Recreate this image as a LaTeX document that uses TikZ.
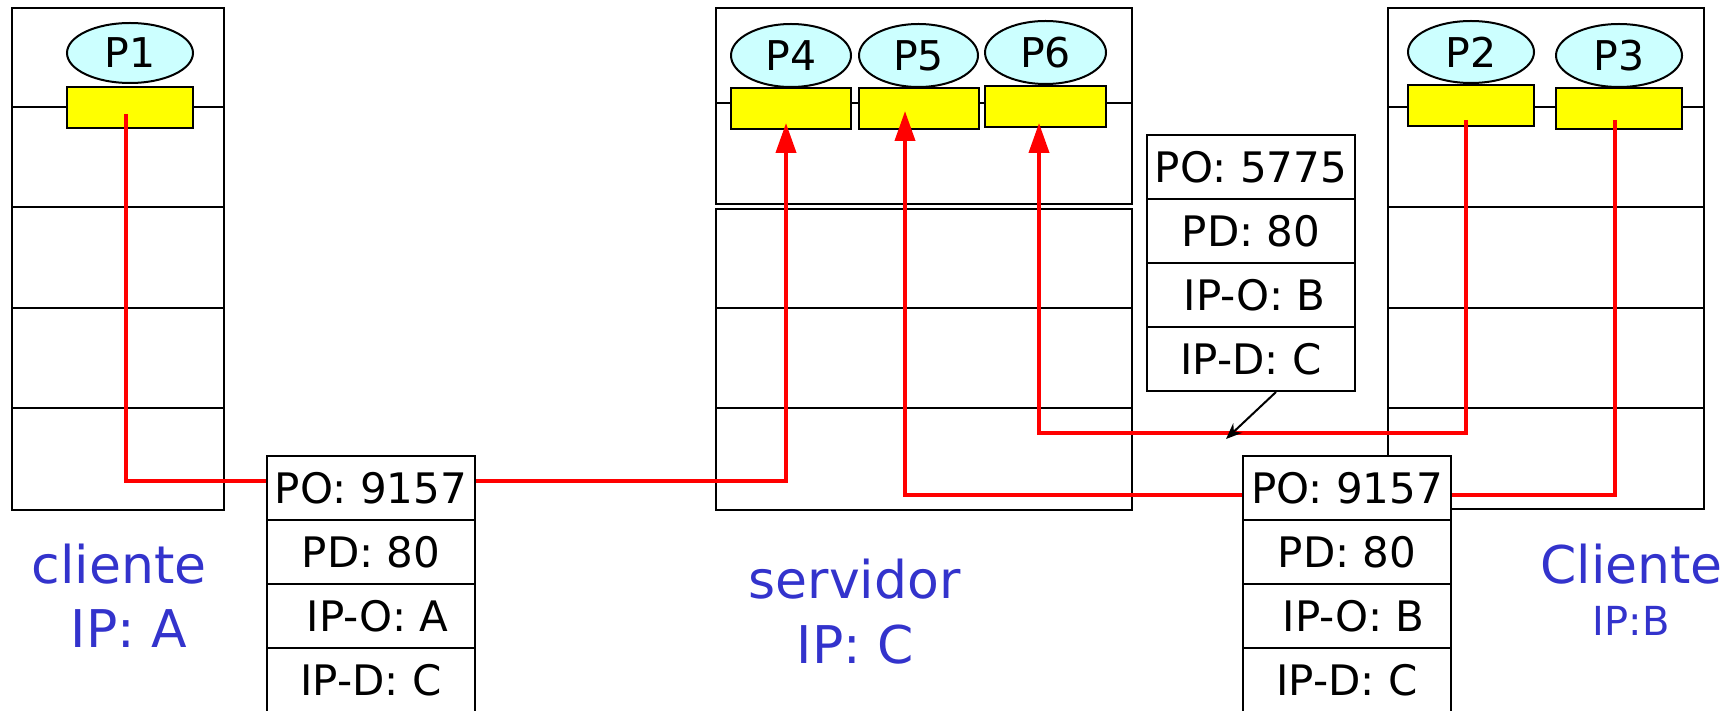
\documentclass[tikz,border=0pt]{standalone}
\usepackage{fontspec}
\setmainfont{DejaVu Sans}
\usetikzlibrary{arrows.meta,shapes.geometric}
\definecolor{lblue}{HTML}{3333CC}
\definecolor{cyanfill}{HTML}{CCFFFF}
\definecolor{procyel}{HTML}{FFFF00}
\newcommand\pktfont{\fontsize{42}{50}\selectfont}
\newcommand\procfont{\fontsize{41}{48}\selectfont}
\newcommand\labfont{\fontsize{52}{60}\selectfont}
\newcommand\smlabfont{\fontsize{40}{48}\selectfont}
\begin{document}
\begin{tikzpicture}[x=1pt,y=-1pt,line width=2pt,
  hostbox/.style={draw,line width=2pt,inner sep=0pt,anchor=north west},
  proc/.style={ellipse,draw,fill=cyanfill,line width=2pt,inner sep=0pt,font=\procfont},
  sock/.style={rectangle,draw,fill=procyel,line width=2pt,inner sep=0pt},
  pkt/.style={rectangle,draw,fill=white,line width=2pt,minimum width=208pt,minimum height=64pt,inner sep=0pt,font=\pktfont},
  redp/.style={draw=red,line width=4pt,-{Triangle[length=30pt,width=20pt]}},
  redq/.style={draw=red,line width=4pt},
  lab/.style={text=lblue,font=\labfont,anchor=base,inner sep=0pt},
  smlab/.style={text=lblue,font=\smlabfont,anchor=base,inner sep=0pt}]
\useasboundingbox (0,0) rectangle (1736,711);

% host boxes
\node[hostbox,minimum width=212pt,minimum height=502pt] (hA) at (11,7) {};
\node[hostbox,minimum width=416pt,minimum height=196pt] (hS1) at (715,7) {};
\node[hostbox,minimum width=416pt,minimum height=301pt] (hS2) at (715,208) {};
\node[hostbox,minimum width=316pt,minimum height=501pt] (hB) at (1387,7) {};

% layer lines
\foreach \yy in {107,207,308,408}{
  \draw (hA.west |- 0,\yy) -- (hA.east |- 0,\yy);
  \draw (hB.west |- 0,\yy) -- (hB.east |- 0,\yy);
}
\draw (hS1.west |- 0,103) -- (hS1.east |- 0,103);
\foreach \yy in {308,408}{
  \draw (hS2.west |- 0,\yy) -- (hS2.east |- 0,\yy);
}

% sockets
\node[sock,minimum width=126pt,minimum height=41pt] (y1) at (130,107.5) {};
\node[sock,minimum width=120pt,minimum height=41pt] (y4) at (791,108.5) {};
\node[sock,minimum width=120pt,minimum height=41pt] (y5) at (919,108.5) {};
\node[sock,minimum width=121pt,minimum height=41pt] (y6) at (1045.5,106.5) {};
\node[sock,minimum width=126pt,minimum height=41pt] (y2) at (1471,105.5) {};
\node[sock,minimum width=126pt,minimum height=41pt] (y3) at (1619,108.5) {};

% processes
\node[proc,minimum width=126pt,minimum height=60pt] (p1) at (130,53) {P1};
\node[proc,minimum width=120pt,minimum height=63pt] (p4) at (791,55.5) {P4};
\node[proc,minimum width=119pt,minimum height=63pt] (p5) at (918.5,55.5) {P5};
\node[proc,minimum width=121pt,minimum height=63pt] (p6) at (1045.5,52.5) {P6};
\node[proc,minimum width=126pt,minimum height=62pt] (p2) at (1471,52) {P2};
\node[proc,minimum width=126pt,minimum height=63pt] (p3) at (1619,55.5) {P3};

% red connections
\coordinate (k1) at (400,481);
\coordinate (k2) at (1300,433);
\coordinate (k3) at (1500,495);
\draw[redp] ([shift={(-4pt,-6.5pt)}]y1.center) |- (k1) -| ([shift={(-5pt,-14.5pt)}]y4.center);
\draw[redp] ([shift={(-5pt,-14.5pt)}]y2.center) |- (k2) -| ([shift={(-6.5pt,-16.5pt)}]y6.center);
\draw[redp] ([shift={(-4pt,-11.5pt)}]y3.center) |- (k3) -| ([shift={(-14pt,-2.5pt)}]y5.center);

% packets
\node[pkt] (a1) at (371,488) {PO: 9157};
\node[pkt] (a2) at (371,552) {PD: 80};
\node[pkt] (a3) at (371,616) {\ IP-O: A};
\node[pkt] (a4) at (371,680) {IP-D: C};

\node[pkt] (b1) at (1347,488) {PO: 9157};
\node[pkt] (b2) at (1347,552) {PD: 80};
\node[pkt] (b3) at (1347,616) {\ IP-O: B};
\node[pkt] (b4) at (1347,680) {IP-D: C};

\node[pkt] (c1) at (1251,167) {PO: 5775};
\node[pkt] (c2) at (1251,231) {PD: 80};
\node[pkt] (c3) at (1251,295) {\,IP-O: B};
\node[pkt] (c4) at (1251,359) {IP-D: C};

\coordinate (ctip) at (1226,439);
\draw[-{Stealth[length=16pt,width=13pt]}] ([xshift=25pt]c4.south) -- (ctip);

% labels
\node[lab] (lA1) at (119,583) {cliente};
\node[lab] (lA2) at (129,647) {IP: A};
\node[lab] (lS1) at (854.5,598) {servidor};
\node[lab] (lS2) at (855.5,663) {IP: C};
\node[lab] (lB1) at (1631.5,583) {Cliente};
\node[smlab] (lB2) at (1631,635) {IP:B};
\end{tikzpicture}
\end{document}
